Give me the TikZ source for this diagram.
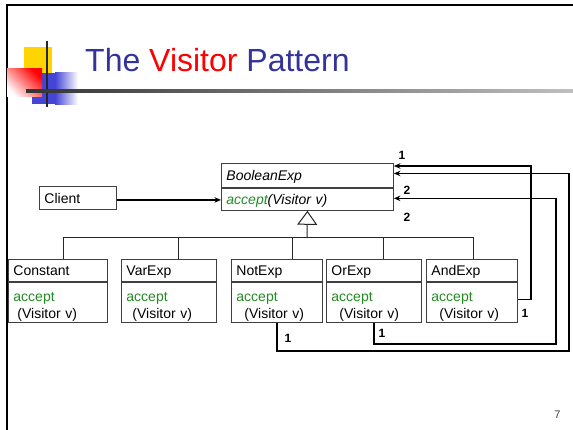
\documentclass[tikz,border=0pt]{standalone}
\usepackage{fontspec}
\setmainfont{Liberation Sans}
\usetikzlibrary{arrows.meta}

\definecolor{titleblue}{RGB}{51,51,153}
\definecolor{acceptgreen}{RGB}{34,139,34}
\definecolor{logoyellow}{RGB}{255,212,0}
\definecolor{logoblue}{RGB}{68,68,214}
\definecolor{boxline}{RGB}{64,64,64}

\newcommand{\accepttext}[1]{{\color{acceptgreen}accept}\\\hspace*{#1}(Visitor v)}

\tikzset{
  cls/.style={draw=boxline, line width=0.9pt, anchor=north west, inner xsep=5pt, inner ysep=0pt,
    align=left, font=\fontsize{14}{16.7}\selectfont},
  clshead/.style={cls, minimum height=22pt, text height=16.5pt, text depth=5.5pt},
  clsbody/.style={cls, minimum height=40pt, text height=19pt, text depth=21pt},
  link/.style={line width=1.6pt, -{Stealth[length=6.5pt,width=5.5pt]}},
  tree/.style={draw=black!85, line width=1pt},
  mult/.style={font=\bfseries\fontsize{12}{12}\selectfont, inner sep=0pt},
}

\begin{document}
\begin{tikzpicture}[x=1pt,y=-1pt]
  \useasboundingbox (0,0) rectangle (573,430);

  % slide frame
  \draw[line width=2pt] (7,430) -- (7,5) -- (573,5);

  % logo
  \fill[logoyellow] (24,47) rectangle (52,73);
  \shade[left color=logoyellow!70, right color=white] (55,72.5) rectangle (78,74);
  \fill[logoblue] (32,73) rectangle (55,104);
  \shade[left color=logoblue, right color=white] (55,73) rectangle (78,105);
  \shade[top color=red, bottom color=white, shading angle=-45] (7,69) rectangle (42,97);
  \draw[line width=2pt, black!85] (47,41) -- (47,107);
  \shade[left color=black!80, right color=black!25] (26,90) rectangle (573,93);

  \node[anchor=base west, inner sep=0pt, font=\fontsize{32}{32}\selectfont, text=titleblue] (title)
    at (85,72) {The \textcolor{red}{Visitor} Pattern};

  % abstract class and client
  \node[cls, text width=162pt, minimum height=24pt, text height=17pt, text depth=7pt] (boolexp)
    at (221,163) {\textit{BooleanExp}};
  \node[cls, text width=162pt, minimum height=22pt, text height=16pt, text depth=6pt] (boolexp-ops)
    at (boolexp.south west) {\textit{{\color{acceptgreen}accept}(Visitor v)}};
  \node[cls, text width=67pt, minimum height=23pt, text height=17pt, text depth=6pt] (client)
    at (39,186) {Client};

  % subclasses
  \node[clshead, text width=89pt] (constant) at (8,259) {Constant};
  \node[clsbody, text width=89pt] (constant-ops) at (constant.south west) {\accepttext{4pt}};
  \node[clshead, text width=85pt] (varexp) at (121,259) {VarExp};
  \node[clsbody, text width=85pt] (varexp-ops) at (varexp.south west) {\accepttext{6pt}};
  \node[clshead, text width=81pt] (notexp) at (231,259) {NotExp};
  \node[clsbody, text width=81pt] (notexp-ops) at (notexp.south west) {\accepttext{8pt}};
  \node[clshead, text width=85pt] (orexp) at (326,259) {OrExp};
  \node[clsbody, text width=85pt] (orexp-ops) at (orexp.south west) {\accepttext{8pt}};
  \node[clshead, text width=81pt] (andexp) at (426,259) {AndExp};
  \node[clsbody, text width=81pt] (andexp-ops) at (andexp.south west) {\accepttext{8pt}};

  % inheritance
  \coordinate (bus) at (307,238);
  \draw[tree] (bus) -| ([xshift=5.5pt]constant.north);
  \draw[tree] (bus) -| ([xshift=9.5pt]varexp.north);
  \draw[tree] (bus) -| ([xshift=15.5pt]notexp.north);
  \draw[tree] (bus) -| ([xshift=9.5pt]orexp.north);
  \draw[tree] (bus) -| ([xshift=1.5pt]andexp.north);
  \draw[tree, -{Triangle[open, length=14pt, width=20pt]}] (bus) -- (boolexp-ops.south);

  % calls
  \draw[link] ([yshift=-2pt]client.east) -- ([yshift=-2pt]client.east -| boolexp-ops.west);

  \coordinate (rail-a) at (531,166);
  \coordinate (rail-b) at (569,351);
  \coordinate (rail-c) at (556,344);
  \draw[link] ([yshift=3pt]andexp-ops.east) -| (rail-a) -- (rail-a -| boolexp.east);
  \draw[link] (notexp-ops.south) |- (rail-b) |- ([yshift=2pt]boolexp.east);
  \draw[link] (orexp-ops.south) |- (rail-c) |- ([yshift=1pt]boolexp-ops.east);

  \node[mult] (m-and) at (402,155) {1};
  \node[mult] (m-not) at (407,190) {2};
  \node[mult] (m-or) at (407,217) {2};
  \node[mult] (m-and-src) at (525,313) {1};
  \node[mult] (m-or-src) at (382,333) {1};
  \node[mult] (m-not-src) at (288,338) {1};

  \node[anchor=base, inner sep=0pt, font=\fontsize{11}{11}\selectfont, text=black!75] (page)
    at (557.5,418) {7};
\end{tikzpicture}
\end{document}
